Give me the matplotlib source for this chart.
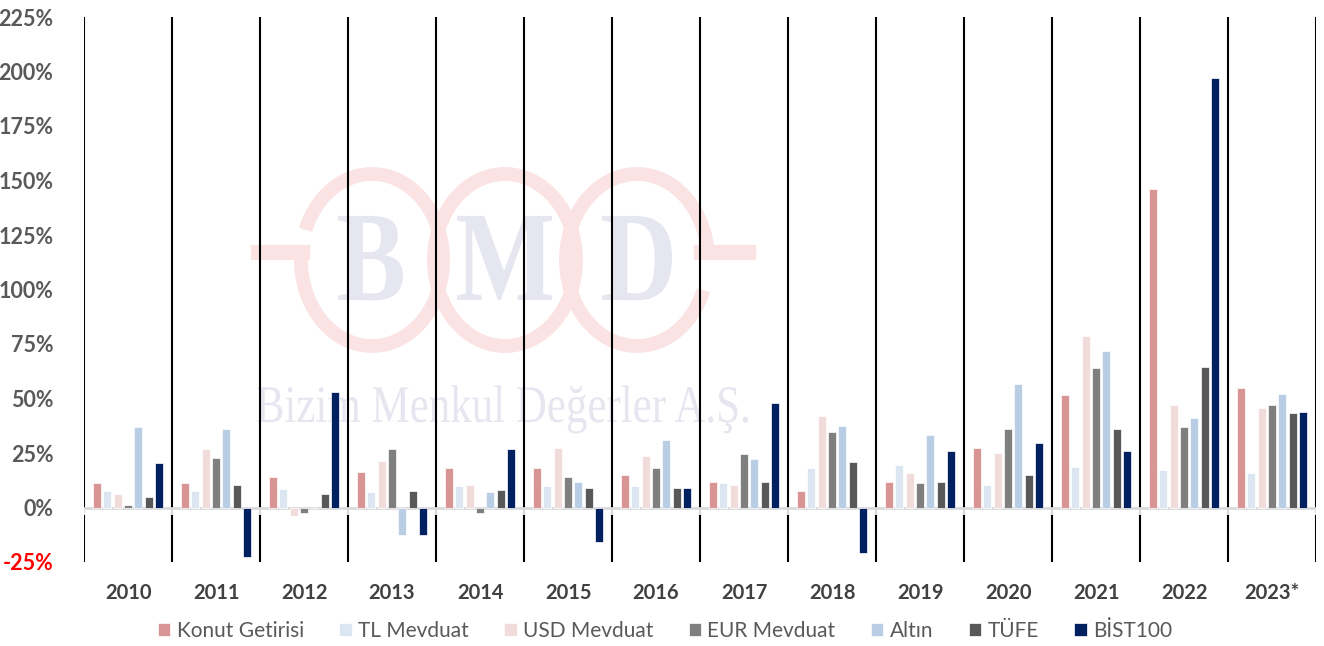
import matplotlib.pyplot as plt
from matplotlib.patches import Arc, PathPatch
from matplotlib.textpath import TextPath
from matplotlib.font_manager import FontProperties
from matplotlib.transforms import Affine2D, IdentityTransform
import numpy as np

# Yıllara göre yatırım araçlarının getirileri (%)
years = ['2010', '2011', '2012', '2013', '2014', '2015', '2016', '2017',
         '2018', '2019', '2020', '2021', '2022', '2023*']
konut = [11.1, 11.1, 14.2, 16.2, 17.9, 17.9, 14.8, 11.9, 7.5, 11.9, 27.2, 51.5, 145.9, 55.0]
tl_mevduat = [7.5, 7.5, 8.4, 6.9, 9.8, 9.8, 9.8, 11.1, 17.9, 19.4, 10.5, 18.5, 17.1, 15.7]
usd_mevduat = [6.1, 26.7, -4.1, 21.5, 10.5, 27.3, 23.7, 10.5, 41.8, 15.7, 25.2, 78.5, 47.0, 45.5]
eur_mevduat = [1.0, 22.9, -2.6, 26.7, -2.6, 14.2, 17.9, 24.4, 34.7, 11.3, 36.0, 63.8, 36.8, 47.0]
altin = [36.8, 36.2, 0.0, -12.7, 6.9, 11.9, 31.0, 22.1, 37.6, 33.1, 56.5, 71.9, 41.2, 52.1]
tufe = [4.6, 10.5, 6.1, 7.5, 8.2, 9.0, 9.0, 11.9, 20.8, 11.9, 14.8, 36.0, 64.6, 43.4]
bist = [20.6, -22.5, 52.8, -12.7, 26.7, -15.9, 9.0, 47.8, -21.0, 25.8, 29.5, 25.8, 197.1, 44.0]

series_names = ['Konut Getirisi', 'TL Mevduat', 'USD Mevduat', 'EUR Mevduat', 'Altın', 'TÜFE', 'BİST100']
series_colors = ['#D99594', '#DCE6F2', '#F2DCDB', '#7F7F7F', '#B9CDE5', '#595959', '#002060']
series = [konut, tl_mevduat, usd_mevduat, eur_mevduat, altin, tufe, bist]

yticks = [-25, 0, 25, 50, 75, 100, 125, 150, 175, 200, 225]

plt.rcParams['font.family'] = ['Lato', 'DejaVu Sans']

W, H = 1324, 646
fig = plt.figure(figsize=(W / 100, H / 100), dpi=100)
ax = fig.add_axes([84 / W, 1 - 562 / H, (1316 - 84) / W, (562 - 17) / H])
ax.set_zorder(1)
ax.patch.set_alpha(0)

# filigran (BMD logosu), piksel koordinatlarında
wm_pink = '#FBE3E4'
wm_text = '#E6E6F1'
serif = FontProperties(family='Liberation Serif')
serif_bold = FontProperties(family='Liberation Serif', weight='bold')


def wm_text_path(s, x0, x1, top, base, prop):
    # metni verilen kutuya (soldan sağa x0-x1, büyük harf üstü top, taban çizgisi base) sığdır
    tp = TextPath((0, 0), s, size=1, prop=prop)
    ext = tp.get_extents()
    sx = (x1 - x0) / ext.width
    sy = (base - top) / 0.662
    tr = Affine2D().translate(-ext.x0, 0).scale(sx, sy).translate(x0, H - base)
    fig.patches.append(PathPatch(tp, transform=tr + IdentityTransform(), fc=wm_text, ec='none', zorder=0))


centers = [372, 505, 637]
ring_w, ring_h = 142, 172
cy = 260
arcs = [(180, 497), (0, 360), (0, 317)]
for cx, (t1, t2) in zip(centers, arcs):
    fig.patches.append(Arc((cx / W, 1 - cy / H), ring_w / W, ring_h / H, theta1=t1, theta2=t2,
                           transform=fig.transFigure, color=wm_pink, lw=10, zorder=0))
fig.add_artist(plt.Line2D([258 / W, 302 / W], [1 - 252 / H, 1 - 252 / H], color=wm_pink, lw=11,
                          transform=fig.transFigure, zorder=0))
fig.add_artist(plt.Line2D([701 / W, 748 / W], [1 - 252 / H, 1 - 252 / H], color=wm_pink, lw=11,
                          transform=fig.transFigure, zorder=0))
wm_text_path('B', 338, 403, 215, 300, serif_bold)
wm_text_path('M', 457, 552, 215, 300, serif_bold)
wm_text_path('D', 602, 672, 215, 300, serif_bold)
wm_text_path('Bizim Menkul Değerler A.Ş.', 257, 748, 387, 422, serif)

x = np.arange(len(years))
step = 0.117
width = 0.092
for j, (vals, name, col) in enumerate(zip(series, series_names, series_colors)):
    ax.bar(x + (j - 3) * step, vals, width, color=col, edgecolor='white', linewidth=0.5,
           label=name, zorder=3)

# kategori ayırıcı çizgiler
bounds = np.arange(len(years) + 1) - 0.5
ax.vlines(bounds, 0, 225, color='black', lw=1.5, zorder=2)
ax.vlines(bounds, -25, -3.3, color='black', lw=1.5, zorder=2)
ax.vlines(bounds, -3.3, 0, color='#D9D9D9', lw=1.5, zorder=2)
ax.axhline(0, color='#D9D9D9', lw=2, zorder=2)

ax.set_xlim(-0.5, len(years) - 0.5)
ax.set_ylim(-25, 225)
for s in ax.spines.values():
    s.set_visible(False)

ax.set_xticks(x)
ax.set_xticklabels(years, fontsize=14.5, fontweight='bold', color='#404040')
ax.tick_params(axis='x', length=0, pad=15)
ax.set_yticks(yticks)
ax.set_yticklabels([f'{v}%' for v in yticks], fontsize=15.5, fontweight='bold', color='#595959')
ax.tick_params(axis='y', length=0, pad=22)
ax.get_yticklabels()[0].set_color('#FF0000')

fig.legend(loc='center', bbox_to_anchor=(665 / W, 1 - 631 / H), ncol=7, frameon=False,
           prop={'size': 15}, labelcolor='#595959', handlelength=0.6,
           handleheight=0.6, handletextpad=0.3, columnspacing=1.7)

fig.savefig('out.png', dpi=100)
